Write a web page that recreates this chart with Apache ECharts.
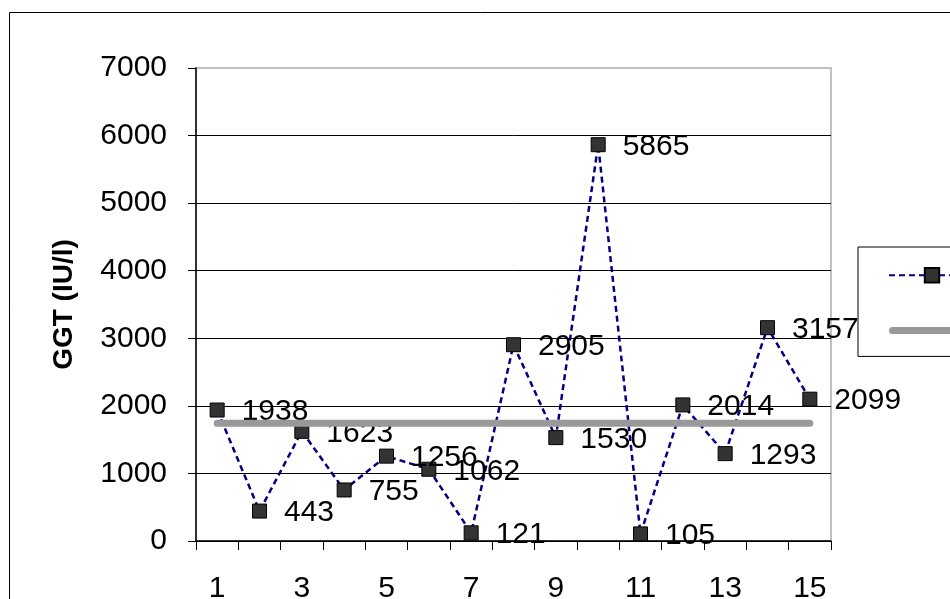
<!DOCTYPE html>
<html>
<head>
<meta charset="utf-8">
<script src="https://cdn.jsdelivr.net/npm/echarts@6/dist/echarts.min.js"></script>
<style>
html,body{margin:0;padding:0;background:#fff;}
#chart{width:950px;height:599px;}
</style>
</head>
<body>
<div id="chart"></div>
<script>
var categories = ['1','2','3','4','5','6','7','8','9','10','11','12','13','14','15'];
var ggtValues = [1938, 443, 1623, 755, 1256, 1062, 121, 2905, 1530, 5865, 105, 2014, 1293, 3157, 2099];
var meanValues = [1744, 1744, 1744, 1744, 1744, 1744, 1744, 1744, 1744, 1744, 1744, 1744, 1744, 1744, 1744];
var yTicks = [0, 1000, 2000, 3000, 4000, 5000, 6000, 7000];

var FONT = 'Liberation Sans, Arial, sans-serif';
var chart = echarts.init(document.getElementById('chart'), null, {renderer: 'canvas'});
chart.setOption({
  animation: false,
  backgroundColor: '#fff',
  graphic: [{
    type: 'rect',
    shape: {x: 9.5, y: 12.5, width: 1200, height: 1000},
    style: {fill: 'none', stroke: '#000', lineWidth: 1},
    silent: true, z: 0
  }],
  grid: {
    left: 196, top: 68, right: 119, bottom: 58,
    outerBoundsMode: 'none',
    containLabel: false,
    show: true, borderColor: '#c0c0c0', borderWidth: 2, backgroundColor: 'transparent'
  },
  legend: {
    orient: 'vertical',
    left: 858, top: 247,
    padding: [20, 10, 20, 30],
    itemWidth: 86, itemHeight: 18, itemGap: 41,
    borderColor: '#000', borderWidth: 1,
    textStyle: {fontFamily: FONT, fontSize: 12, color: '#000'},
    data: [
      {name: 'GGT'},
      {
        name: 'Mean',
        icon: 'path://M3.5,0 H82.5 A3.5,3.5 0 0 1 82.5,7 H3.5 A3.5,3.5 0 0 1 3.5,0 Z',
        itemStyle: {color: '#999999', borderWidth: 0}
      }
    ]
  },
  xAxis: {
    type: 'category',
    data: categories,
    boundaryGap: true,
    axisLine: {lineStyle: {color: '#000', width: 1.5}},
    axisTick: {show: true, interval: 0, length: 9, lineStyle: {color: '#000'}},
    axisLabel: {interval: 1, fontFamily: FONT, fontSize: 30, color: '#000', margin: 33},
    splitLine: {show: false}
  },
  yAxis: {
    type: 'value',
    min: yTicks[0], max: yTicks[yTicks.length - 1], interval: 1000,
    name: 'GGT (IU/l)',
    nameLocation: 'middle',
    nameGap: 118,
    nameTextStyle: {fontFamily: FONT, fontSize: 28, fontWeight: 'bold', color: '#000'},
    axisLine: {show: true, lineStyle: {color: '#000', width: 1.5}},
    axisTick: {show: true, length: 8, lineStyle: {color: '#000'}},
    axisLabel: {
      fontFamily: FONT, fontSize: 30, color: '#000', margin: 29,
      formatter: function (v) { return String(v); }
    },
    splitLine: {show: true, showMaxLine: false, lineStyle: {color: '#000', width: 1}}
  },
  series: [{
    name: 'GGT',
    type: 'line',
    data: ggtValues,
    z: 3,
    symbol: 'rect',
    symbolSize: 14,
    itemStyle: {color: '#333333', borderColor: '#000', borderWidth: 1},
    lineStyle: {color: '#000080', width: 2.5, type: [6, 4]},
    label: {
      show: true, position: 'right', distance: 17, offset: [0, 2],
      fontFamily: FONT, fontSize: 30, color: '#000'
    }
  }, {
    name: 'Mean',
    type: 'line',
    data: meanValues,
    z: 4,
    symbol: 'none',
    showSymbol: false,
    itemStyle: {color: '#999999'},
    lineStyle: {color: '#999999', width: 7, cap: 'round'}
  }]
});
</script>
</body>
</html>
